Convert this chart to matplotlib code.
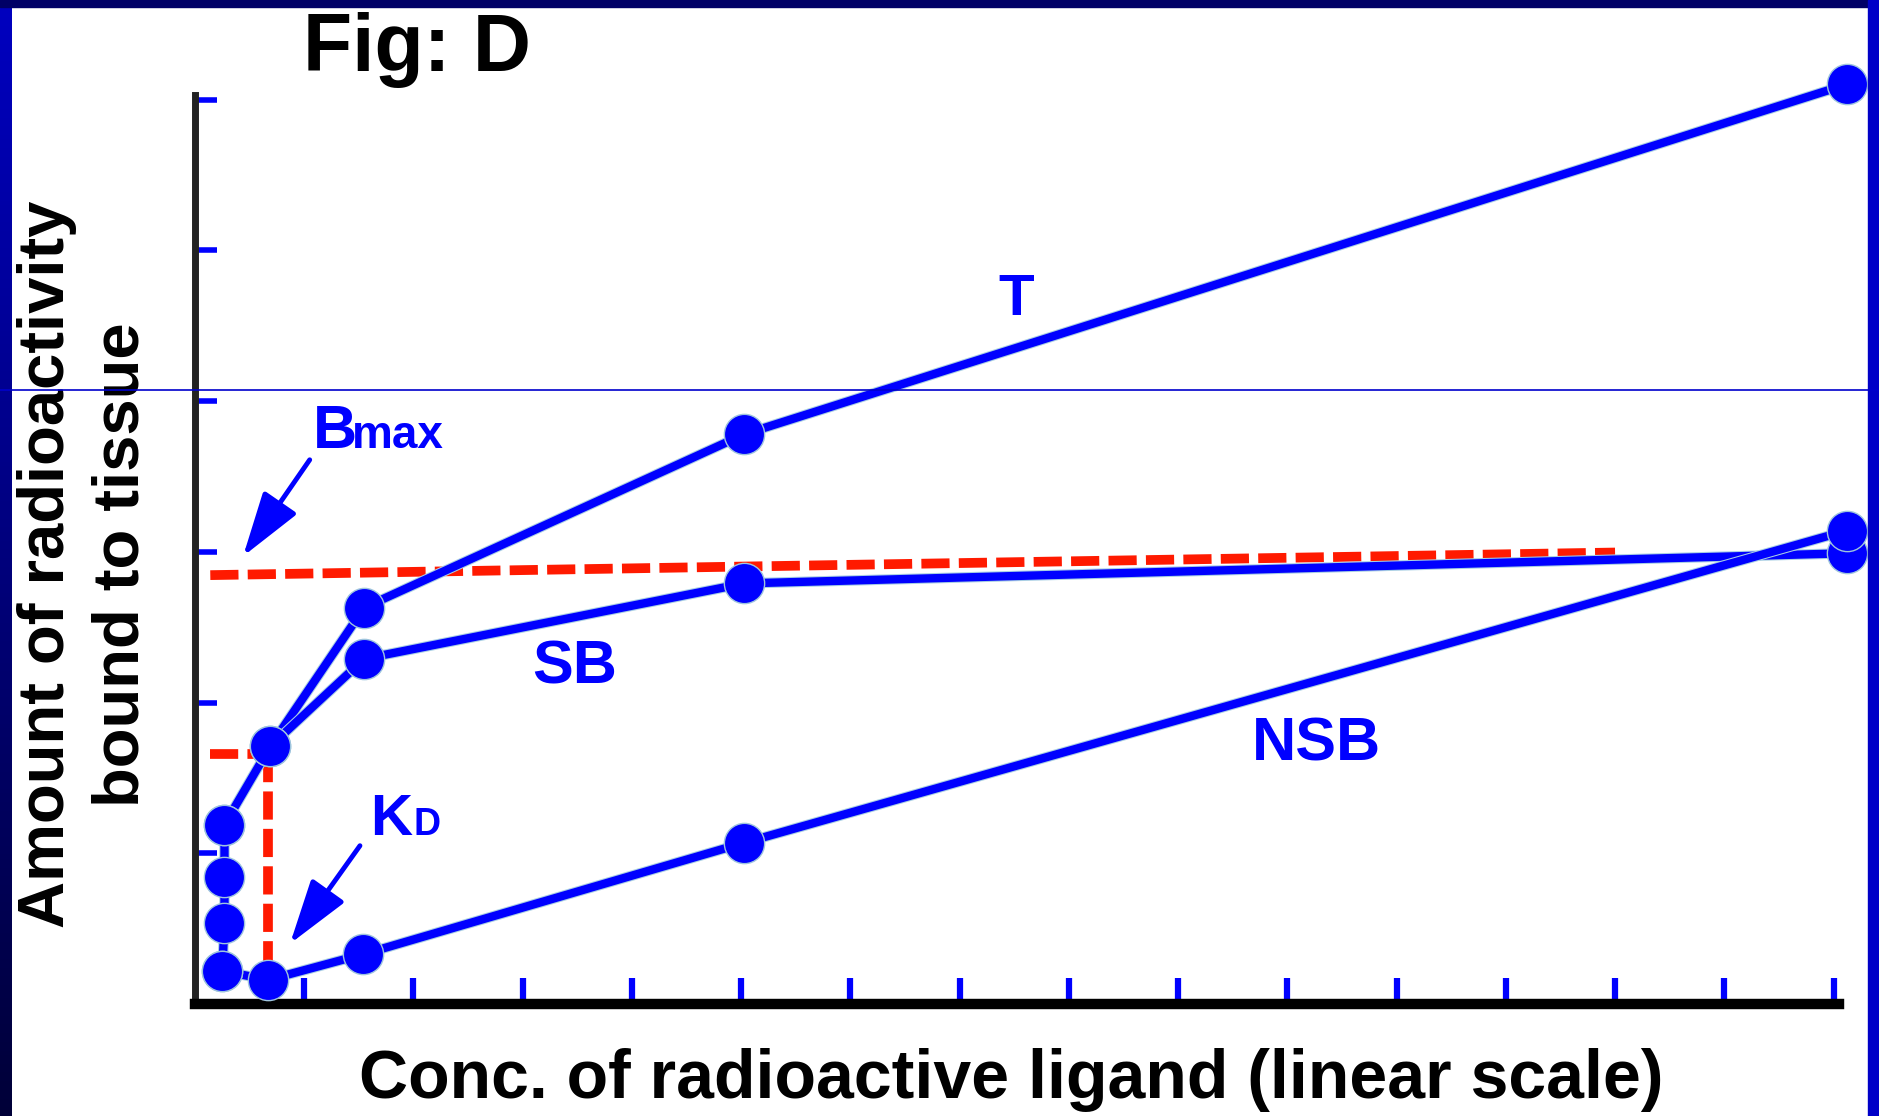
import numpy as np
import matplotlib
matplotlib.use("Agg")
import matplotlib.pyplot as plt
import matplotlib.patheffects as pe
from matplotlib.colors import LinearSegmentedColormap
from matplotlib.lines import Line2D
from matplotlib.patches import Rectangle

plt.rcParams['font.family'] = ['Liberation Sans', 'DejaVu Sans']

# Values (x = ligand conc., y = bound radioactivity)
t_conc = [0.27, 0.69, 1.55, 5.03, 15.12]
t_bound = [1.19, 1.71, 2.63, 3.78, 6.10]
sb_conc = [0.69, 1.55, 5.03, 15.12]
sb_bound = [1.71, 2.29, 2.79, 2.99]
nsb_conc = [0.25, 0.67, 1.54, 5.03, 15.12]
nsb_bound = [0.22, 0.16, 0.33, 1.07, 3.14]
low_conc = [0.27, 0.27, 0.27, 0.25]
low_bound = [1.19, 0.84, 0.54, 0.22]

bmax_x = [0.14, 13.0]
bmax_y = [2.845, 2.995]
kd_x = 0.67
kd_y = 1.66

x_ticks = list(range(1, 16))
y_ticks = list(range(1, 7))

BLUE = "#0000ff"
W, H = 1879, 1116

fig = plt.figure(figsize=(W / 100, H / 100), dpi=100)
fig.patch.set_facecolor("white")

# slide borders
band = fig.add_axes([0, 0, 12 / W, 1])
band.imshow(np.linspace(0, 1, 256).reshape(-1, 1), aspect="auto",
            cmap=LinearSegmentedColormap.from_list("band", ["#0000c0", "#000038"]))
band.axis("off")
fig.add_artist(Rectangle((0, 1 - 7 / H), 1, 7 / H, transform=fig.transFigure,
                         color="#000066", zorder=5))
fig.add_artist(Rectangle((1868 / W, 0), 11 / W, 1, transform=fig.transFigure,
                         color="#0000c8", zorder=5))

ax = fig.add_axes([195 / W, 1 - 1004 / H, (1839 - 195) / W, (1004 - 95) / H])
ax.set_xlim(0, 15.05)
ax.set_ylim(0, 6.03)
for s in ["top", "right"]:
    ax.spines[s].set_visible(False)
ax.spines["left"].set_color("#222222")
ax.spines["left"].set_linewidth(5)
ax.spines["bottom"].set_color("black")
ax.spines["bottom"].set_linewidth(7.5)
ax.set_xticks(x_ticks)
ax.set_yticks(y_ticks)
ax.tick_params(axis="x", direction="in", length=19, width=4.5, color=BLUE,
               labelbottom=False)
ax.tick_params(axis="y", direction="in", length=16, width=4, color=BLUE,
               labelleft=False)

# red dashed guides for Bmax and Kd
red = dict(color="#ff1a00", lw=7, dashes=(2.9, 0.95), zorder=2, clip_on=False)
ax.plot(bmax_x, bmax_y, **red)
ax.plot([0.14, kd_x], [kd_y, kd_y], **red)
ax.plot([kd_x, kd_x], [kd_y, 0.16], **red)

# curves
halo = [pe.Stroke(linewidth=7.5, foreground="#a9cfe3"), pe.Normal()]
for xs, ys in [(t_conc, t_bound), (sb_conc, sb_bound),
               (nsb_conc, nsb_bound), (low_conc, low_bound)]:
    ax.plot(xs, ys, "-", color=BLUE, lw=6, zorder=3, clip_on=False,
            path_effects=halo)
    ax.plot(xs, ys, "o", color=BLUE, ms=29, mec="#9fc5dd", mew=1,
            zorder=4, clip_on=False)

txt = dict(color=BLUE, fontweight="bold")
ax.text(7.52, 4.67, "T", fontsize=42, ha="center", va="center", **txt)
ax.text(3.48, 2.23, "SB", fontsize=44, ha="center", va="center", **txt)
ax.text(10.27, 1.72, "NSB", fontsize=44, ha="center", va="center", **txt)
ax.text(1.08, 3.69, "B", fontsize=44, ha="left", va="baseline", **txt)
ax.text(1.44, 3.69, "max", fontsize=33, ha="left", va="baseline", **txt)
ax.text(1.60, 1.12, "K", fontsize=42, ha="left", va="baseline", **txt)
ax.text(2.00, 1.12, "D", fontsize=27, ha="left", va="baseline", **txt)

arrow = dict(arrowstyle="-|>,head_length=0.8,head_width=0.25", color=BLUE,
             lw=3.5, mutation_scale=50, shrinkA=0, shrinkB=0)
ax.annotate("", xy=(0.44, 2.97), xytext=(1.05, 3.61), arrowprops=arrow)
ax.annotate("", xy=(0.87, 0.40), xytext=(1.51, 1.05), arrowprops=arrow)

fig.text(0.222, 0.955, "Fig: D", fontsize=58, fontweight="bold",
         ha="center", va="center")
fig.text(0.0447, 0.494, "Amount of radioactivity\nbound to tissue",
         rotation=90, fontsize=47, fontweight="bold", ha="center",
         va="center", multialignment="center", linespacing=1.3)
fig.text(0.538, 0.032, "Conc. of radioactive ligand (linear scale)",
         fontsize=49, fontweight="bold", ha="center", va="center")

# thin stray rule across the slide
fig.add_artist(Line2D([0, 1], [1 - 390 / H] * 2, transform=fig.transFigure,
                      color="#0000cc", lw=1.2, zorder=10))

fig.savefig("out.png", dpi=100)
